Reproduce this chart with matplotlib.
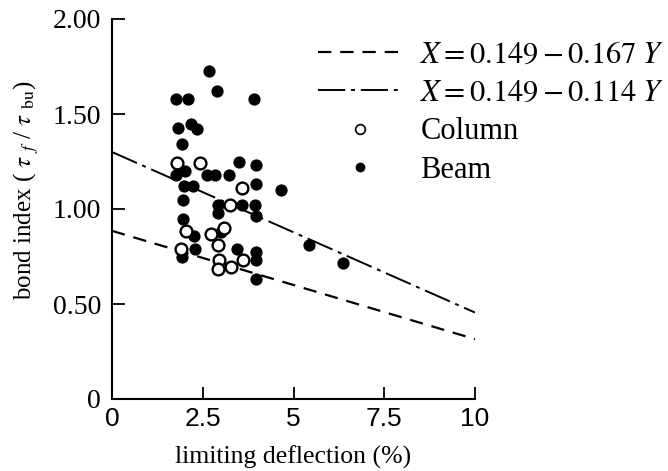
import matplotlib
matplotlib.use("Agg")
import matplotlib.pyplot as plt
from matplotlib.lines import Line2D

plt.rcParams['mathtext.fontset'] = 'stix'

# beam (filled) points
beam_x = [2.67, 2.88, 1.76, 2.10, 3.92, 1.81, 2.17, 2.35, 1.92, 3.51, 3.96,
          1.76, 2.01, 2.63, 2.84, 3.23, 3.96, 4.65, 1.98, 2.22, 1.96, 2.93,
          2.93, 3.57, 3.94, 3.96, 1.96, 2.26, 2.30, 3.00, 3.43, 3.96, 3.96,
          1.94, 3.96, 5.43, 6.37]
beam_y = [1.725, 1.62, 1.58, 1.58, 1.58, 1.425, 1.45, 1.42, 1.34, 1.25, 1.23,
          1.18, 1.20, 1.18, 1.18, 1.18, 1.13, 1.10, 1.12, 1.12, 1.05, 1.02,
          0.98, 1.02, 1.02, 0.965, 0.95, 0.86, 0.79, 0.88, 0.79, 0.775, 0.733,
          0.745, 0.63, 0.81, 0.716]

# column (open) points
col_x = [1.78, 2.42, 3.57, 3.25, 2.04, 2.73, 3.09, 1.90, 2.93, 2.96, 2.93,
         3.28, 3.60]
col_y = [1.24, 1.24, 1.11, 1.02, 0.886, 0.87, 0.90, 0.79, 0.81, 0.73, 0.684,
         0.696, 0.733]

# fitted lines (end values)
line_x = [0, 10]
dash_y = [0.885, 0.315]
dashdot_y = [1.30, 0.455]

xticks = [0, 2.5, 5, 7.5, 10]
xtick_labels = ['0', '2.5', '5', '7.5', '10']
yticks = [0, 0.5, 1.0, 1.5, 2.0]
ytick_labels = ['0', '0.50', '1.00', '1.50', '2.00']

serif = 'Liberation Serif'
sans = 'Liberation Sans'

fig = plt.figure(figsize=(6.68, 4.71), dpi=100)
ax = fig.add_axes([112/668, 1 - 399/471, 363/668, 380/471])

ax.plot(line_x, dash_y, color='black', lw=1.6, dashes=(6, 4))
ax.plot(line_x, dashdot_y, color='black', lw=1.4, dashes=(14, 3, 2, 3))
ax.plot(beam_x, beam_y, 'o', color='black', ms=7.8, zorder=3)
ax.plot(col_x, col_y, 'o', mfc='white', mec='black', mew=1.7, ms=8.5, zorder=4)

ax.set_xlim(0, 10)
ax.set_ylim(0, 2.0)
ax.spines['top'].set_visible(False)
ax.spines['right'].set_visible(False)
for s in ('left', 'bottom'):
    ax.spines[s].set_linewidth(1.5)

ax.set_xticks(xticks)
ax.set_xticklabels(xtick_labels, family=sans, fontsize=19)
ax.set_yticks(yticks)
ax.set_yticklabels(ytick_labels, family=serif, fontsize=20)
ax.tick_params(direction='in', length=9, width=1.3)
ax.tick_params(axis='x', pad=6)
ax.tick_params(axis='y', pad=8)

ax.set_xlabel('limiting deflection (%)', family=serif, fontsize=18.5, labelpad=10)
ax.set_ylabel(r'bond index ( $\tau$ $_{f}$ / $\tau$ $_{\mathrm{bu}}$)',
              family=serif, fontsize=18, labelpad=8, y=0.55)

handles = [
    Line2D([], [], color='black', lw=1.6, dashes=(6, 4)),
    Line2D([], [], color='black', lw=1.4, dashes=(14, 3, 2, 3)),
    Line2D([], [], ls='none', marker='o', mfc='white', mec='black', mew=1.2, ms=7),
    Line2D([], [], ls='none', marker='o', color='black', ms=6),
]
labels = [r'$X=0.149-0.167\;Y$', r'$X=0.149-0.114\;Y$', 'Column', 'Beam']
leg = ax.legend(handles, labels, loc='upper left',
                bbox_to_anchor=(318/668, 1 - 41/471), bbox_transform=fig.transFigure,
                frameon=False, handlelength=2.75, handletextpad=0.6,
                labelspacing=0.3, prop={'family': serif, 'size': 22},
                borderaxespad=0, borderpad=0)

fig.savefig('out.png', dpi=100)
